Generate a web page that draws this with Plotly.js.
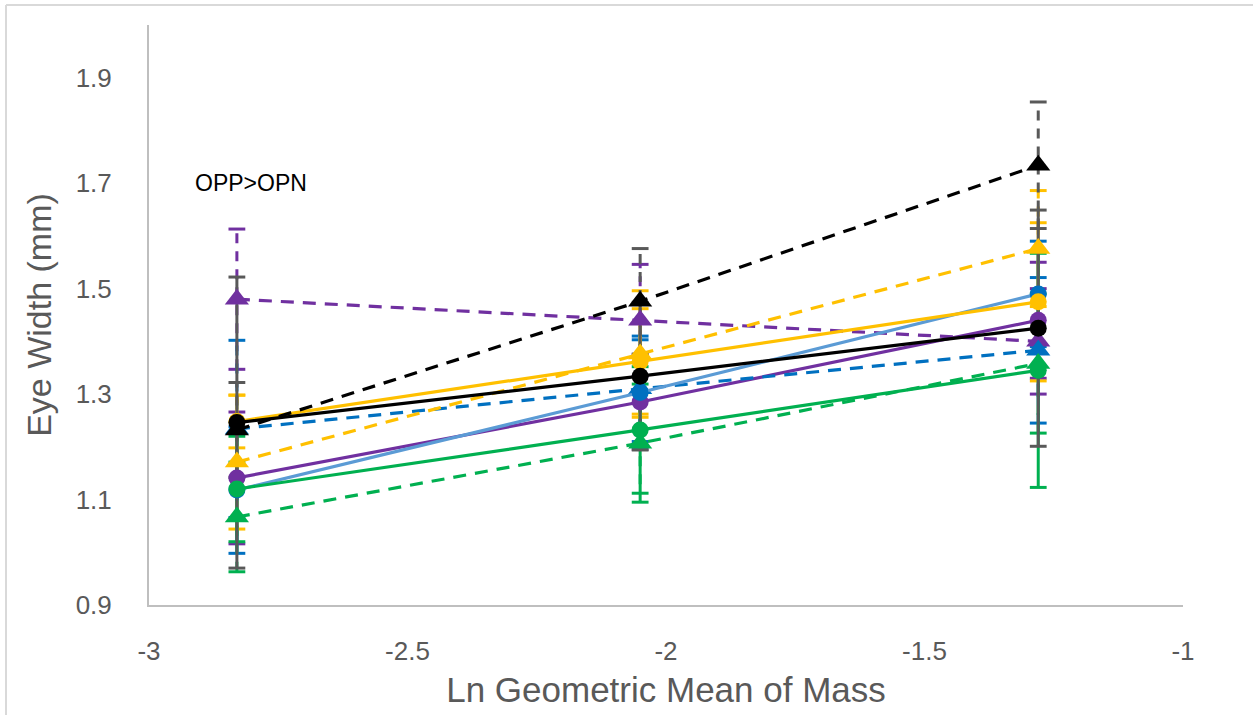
<!DOCTYPE html>
<html>
<head>
<meta charset="utf-8">
<script src="https://cdn.plot.ly/plotly-3.0.1.min.js"></script>
<style>
  html, body { margin: 0; padding: 0; background: #fff; }
  #chart { width: 1253px; height: 715px; }
</style>
</head>
<body>
<div id="chart"></div>
<script>
// x positions: ln of geometric mean mass for the three size classes
const massLn = [-2.83, -2.05, -1.28];

// Solid series (circle markers)
const blueCircle   = [1.118, 1.303, 1.490];
const blueCircleErr   = [0.120, 0.100, 0.100];
const goldCircle   = [1.248, 1.362, 1.475];
const goldCircleErr   = [0.050, 0.100, 0.150];
const purpleCircle = [1.141, 1.285, 1.440];
const purpleCircleErr = [0.125, 0.090, 0.110];
const greenCircle  = [1.120, 1.232, 1.345];
const greenCircleErr  = [0.100, 0.120, 0.222];
const blackCircle  = [1.246, 1.334, 1.425];
const blackCircleErr  = [0.276, 0.140, 0.224];

// Dashed series (triangle markers)
const blueTri   = [1.234, 1.310, 1.383];
const blueTriErr   = [0.168, 0.100, 0.138];
const goldTri   = [1.171, 1.376, 1.576];
const goldTriErr   = [0.127, 0.120, 0.110];
const purpleTri = [1.480, 1.440, 1.400];
const purpleTriErr = [0.133, 0.106, 0.100];
const greenTri  = [1.067, 1.207, 1.358];
const greenTriErr  = [0.104, 0.112, 0.132];
const blackTri  = [1.232, 1.476, 1.734];
const blackTriErr  = [0.090, 0.100, 0.120];

const xTicks = [-3, -2.5, -2, -1.5, -1];
const yTicks = [0.9, 1.1, 1.3, 1.5, 1.7, 1.9];
const noteText = 'OPP>OPN';

const BLUE = '#0070C0', LIGHTBLUE = '#5B9BD5', GOLD = '#FFC000',
      PURPLE = '#7030A0', GREEN = '#00B050', BLACK = '#000000', ERRGRAY = '#595959';
const DASH = '13px,9px';

// [values, errors, line colour, marker colour, error colour, dashed?]
const seriesList = [
  [purpleTri, purpleTriErr, PURPLE, PURPLE, PURPLE, true],
  [purpleCircle, purpleCircleErr, PURPLE, PURPLE, PURPLE, false],
  [blueTri, blueTriErr, BLUE, BLUE, BLUE, true],
  [blueCircle, blueCircleErr, LIGHTBLUE, BLUE, BLUE, false],
  [goldTri, goldTriErr, GOLD, GOLD, GOLD, true],
  [goldCircle, goldCircleErr, GOLD, GOLD, GOLD, false],
  [greenTri, greenTriErr, GREEN, GREEN, GREEN, true],
  [greenCircle, greenCircleErr, GREEN, GREEN, GREEN, false],
  [blackTri, blackTriErr, BLACK, BLACK, ERRGRAY, true],
  [blackCircle, blackCircleErr, BLACK, BLACK, ERRGRAY, false]
];

const traces = [];

// Error bars: vertical stems (dashed for the dashed series) plus end caps
seriesList.forEach(([vals, errs, , , errColor, dashed]) => {
  const sx = [], sy = [], cx = [], cy = [];
  vals.forEach((v, i) => {
    sx.push(massLn[i], massLn[i], null);
    sy.push(v - errs[i], v + errs[i], null);
    cx.push(massLn[i], massLn[i]);
    cy.push(v - errs[i], v + errs[i]);
  });
  traces.push({
    x: sx, y: sy, mode: 'lines', type: 'scatter', hoverinfo: 'skip',
    line: { color: errColor, width: 3, dash: dashed ? '10px,8px' : 'solid' },
    showlegend: false
  });
  traces.push({
    x: cx, y: cy, mode: 'markers', type: 'scatter', hoverinfo: 'skip',
    marker: { symbol: 'line-ew', size: 12, line: { color: errColor, width: 3 } },
    showlegend: false
  });
});

// Series lines and markers
seriesList.forEach(([vals, , lineColor, markerColor, , dashed]) => {
  traces.push({
    x: massLn, y: vals, mode: 'lines+markers', type: 'scatter',
    line: { color: lineColor, width: 3.2, dash: dashed ? DASH : 'solid' },
    marker: {
      symbol: dashed ? 'triangle-up' : 'circle',
      size: dashed ? 21 : 17,
      color: markerColor,
      line: { width: 0 }
    },
    showlegend: false
  });
});

const FONT = 'Liberation Sans, Arial, sans-serif';

const layout = {
  width: 1253, height: 715,
  margin: { l: 149, r: 70, t: 25, b: 110 },
  paper_bgcolor: '#ffffff', plot_bgcolor: '#ffffff',
  showlegend: false,
  xaxis: {
    range: [-3, -1],
    tickvals: xTicks,
    ticktext: xTicks.map(String),
    showgrid: false, zeroline: false,
    showline: true, linecolor: '#BFBFBF', linewidth: 2,
    ticks: '', ticklabelstandoff: 22,
    tickfont: { family: FONT, size: 26, color: '#595959' },
    title: { text: 'Ln Geometric Mean of Mass', standoff: 12,
             font: { family: FONT, size: 35, color: '#595959' } }
  },
  yaxis: {
    range: [0.9, 2.0],
    tickvals: yTicks,
    ticktext: yTicks.map(v => v.toFixed(1)),
    showgrid: false, zeroline: false,
    showline: true, linecolor: '#BFBFBF', linewidth: 2,
    ticks: '', ticklabelstandoff: 30,
    tickfont: { family: FONT, size: 26, color: '#595959' },
    title: { text: 'Eye Width (mm)', standoff: 14,
             font: { family: FONT, size: 34, color: '#595959' } }
  },
  annotations: [{
    x: -2.915, y: 1.70, xref: 'x', yref: 'y',
    xanchor: 'left', yanchor: 'middle',
    text: noteText, showarrow: false,
    font: { family: FONT, size: 23, color: '#000000' }
  }],
  shapes: [
    { type: 'line', xref: 'paper', yref: 'paper',
      x0: (6 - 149) / 1034, x1: (1253 - 149) / 1034,
      y0: (605 - 5) / 580, y1: (605 - 5) / 580,
      line: { color: '#D9D9D9', width: 2 } },
    { type: 'line', xref: 'paper', yref: 'paper',
      x0: (6 - 149) / 1034, x1: (6 - 149) / 1034,
      y0: (605 - 5) / 580, y1: (605 - 715) / 580,
      line: { color: '#D9D9D9', width: 2 } }
  ]
};

Plotly.newPlot('chart', traces, layout, { displayModeBar: false, staticPlot: true });
</script>
</body>
</html>
